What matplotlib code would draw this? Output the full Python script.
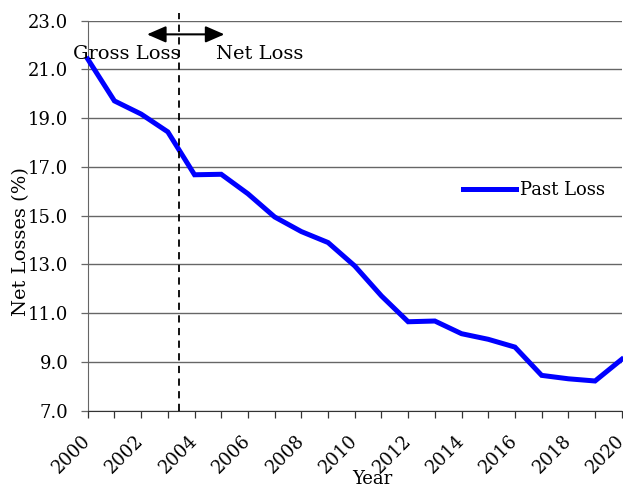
import matplotlib.pyplot as plt
import numpy as np

years = np.arange(2000, 2021)
past_loss = [21.43, 19.71, 19.17, 18.44, 16.68, 16.70, 15.90, 14.95, 14.35, 13.90,
             12.94, 11.71, 10.65, 10.68, 10.16, 9.93, 9.61, 8.45, 8.31, 8.22, 9.11]
yticks = [7.0, 9.0, 11.0, 13.0, 15.0, 17.0, 19.0, 21.0, 23.0]
split_year = 2003.4

plt.rcParams['font.family'] = ['DejaVu Serif']
plt.rcParams['font.size'] = 13

fig = plt.figure(figsize=(6.23, 4.92), dpi=100)
ax = fig.add_axes([0.1408, 0.1652, 0.8572, 0.7927])

ax.plot(years, past_loss, color="#0000ff", lw=3.6, label="Past Loss",
        solid_joinstyle="miter", clip_on=False, zorder=3)

ax.set_xlim(2000, 2020)
ax.set_ylim(7, 23)
ax.set_yticks(yticks)
ax.set_yticklabels(["%.1f" % v for v in yticks])
ax.set_xticks(years)
ax.set_xticklabels([str(y) if y % 2 == 0 else "" for y in years], rotation=45,
                   ha="right", va="center", rotation_mode="anchor")
ax.tick_params(axis="x", length=5, width=0.9, color="#333333", pad=15)
ax.tick_params(axis="y", length=5, width=0.9, color="#666666", pad=9)
ax.grid(axis="y", color="#666666", lw=1)
ax.set_axisbelow(True)

for s in ["top", "right"]:
    ax.spines[s].set_visible(False)
ax.spines["left"].set_color("#666666")
ax.spines["bottom"].set_color("#333333")

ax.set_ylabel("Net Losses (%)", fontsize=14)
ax.yaxis.set_label_coords(-0.108, 0.434)
ax.set_xlabel("Year", fontsize=13)
ax.xaxis.set_label_coords(0.532, -0.153)

ax.plot([split_year, split_year], [7, 23.33], color="black", lw=1.3,
        ls=(0, (4, 3)), clip_on=False, zorder=4)
ax.annotate("", xy=(2002.22, 22.44), xytext=(2005.12, 22.44),
            arrowprops=dict(arrowstyle="<|-|>,head_length=1.15,head_width=0.5",
                            mutation_scale=10, color="black", lw=1.5,
                            shrinkA=0, shrinkB=0),
            annotation_clip=False)
ax.text(1999.46, 21.42, "Gross Loss", ha="left", va="baseline", fontsize=14)
ax.text(2004.81, 21.42, "Net Loss", ha="left", va="baseline", fontsize=14)

ax.legend(loc="center left", bbox_to_anchor=(0.703, 0.566), frameon=False,
          handlelength=2.9, handletextpad=0.25, fontsize=13, borderpad=0,
          borderaxespad=0)

plt.savefig("out.png", dpi=100)
